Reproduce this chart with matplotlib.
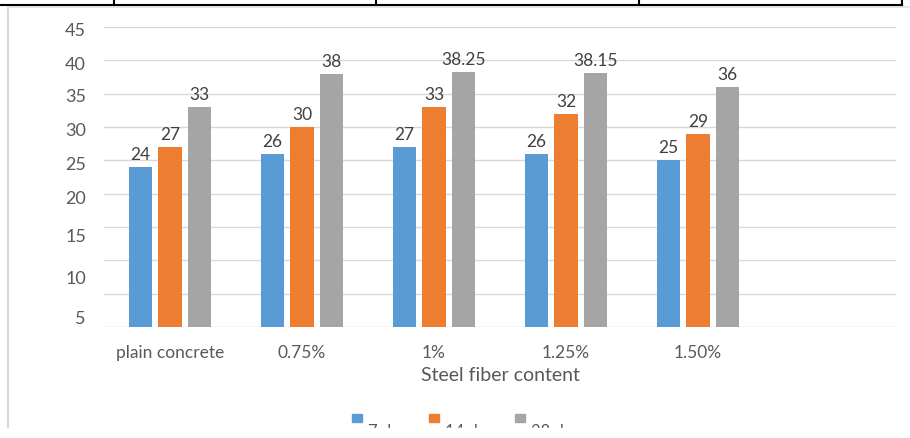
import numpy as np
import matplotlib.pyplot as plt
from matplotlib.patches import Rectangle
from matplotlib.lines import Line2D

plt.rcParams['font.family'] = ['Lato', 'DejaVu Sans']

# data
categories = ['plain concrete', '0.75%', '1%', '1.25%', '1.50%', '']
series_names = ['7 days', '14 days', '28 days']
days7 = [24, 26, 27, 26, 25]
days14 = [27, 30, 33, 32, 29]
days28 = [33, 38, 38.25, 38.15, 36]
value_text = [['24', '26', '27', '26', '25'],
              ['27', '30', '33', '32', '29'],
              ['33', '38', '38.25', '38.15', '36']]
ytick_text = ['5', '10', '15', '20', '25', '30', '35', '40', '45']

colors = ['#5B9BD5', '#ED7D31', '#A5A5A5']
label_col = '#595959'

W, H = 910, 438
fig = plt.figure(figsize=(W / 100, H / 100), dpi=100)
ax = fig.add_axes([104 / W, 1 - 327 / H, 792 / W, 300 / H])

x = np.arange(len(categories))
w = 0.177
offsets = [-0.223, 0, 0.223]
for i, vals in enumerate([days7, days14, days28]):
    xs = x[:len(vals)] + offsets[i]
    bars = ax.bar(xs, vals, width=w, color=colors[i], zorder=3, label=series_names[i])
    for b, t in zip(bars, value_text[i]):
        ax.text(b.get_x() + b.get_width() / 2, b.get_height() + 0.6, t,
                ha='center', va='bottom', fontsize=12.5, color='#404040')

ax.set_xlim(-0.5, len(categories) - 0.5)
ax.set_ylim(0, 45)

# gridlines every 5, tick labels sit slightly off as in the original
ax.set_yticks(np.arange(0, 46, 5), minor=True)
ax.grid(axis='y', which='minor', color='#D9D9D9', linewidth=1.0, zorder=0)
ax.set_yticks([1.5, 7.5, 13.8, 19.5, 24.6, 29.7, 34.8, 39.5, 44.6])
ax.set_yticklabels(ytick_text)
ax.tick_params(axis='y', which='both', length=0, pad=13, labelsize=13, labelcolor=label_col)

ax.set_xticks(x)
ax.set_xticklabels(categories)
ax.tick_params(axis='x', length=0, pad=13, labelsize=12.5, labelcolor=label_col)
ax.set_xlabel('Steel fiber content', fontsize=14, color=label_col, labelpad=4)

for s in ax.spines.values():
    s.set_visible(False)

# legend, cut off at the bottom of the image
legend_x = [352, 429, 515]
for lx, c, name in zip(legend_x, colors, series_names):
    fig.patches.append(Rectangle((lx / W, 1 - 422 / H), 10 / W, 8 / H,
                                 transform=fig.transFigure, color=c))
    fig.text((lx + 16) / W, 1 - 424 / H, name, ha='left', va='top',
             fontsize=12, color=label_col)
fig.add_artist(Rectangle((0, 0), 1, 10 / H, transform=fig.transFigure,
                         color='white', zorder=10))

# chart frame and table fragment at the top
fig.add_artist(Line2D([8 / W, 8 / W], [0, 1 - 7 / H], transform=fig.transFigure,
                      color='#D9D9D9', lw=1.5))
fig.add_artist(Line2D([8 / W, 1], [1 - 7 / H, 1 - 7 / H], transform=fig.transFigure,
                      color='#E6E6E6', lw=1.5))
fig.add_artist(Line2D([0, 902 / W], [1 - 5 / H, 1 - 5 / H], transform=fig.transFigure,
                      color='black', lw=1.5))
for xv in [114, 376, 639, 902]:
    fig.add_artist(Line2D([xv / W, xv / W], [1 - 5 / H, 1], transform=fig.transFigure,
                          color='black', lw=1.5))

fig.savefig('out.png', dpi=100)
